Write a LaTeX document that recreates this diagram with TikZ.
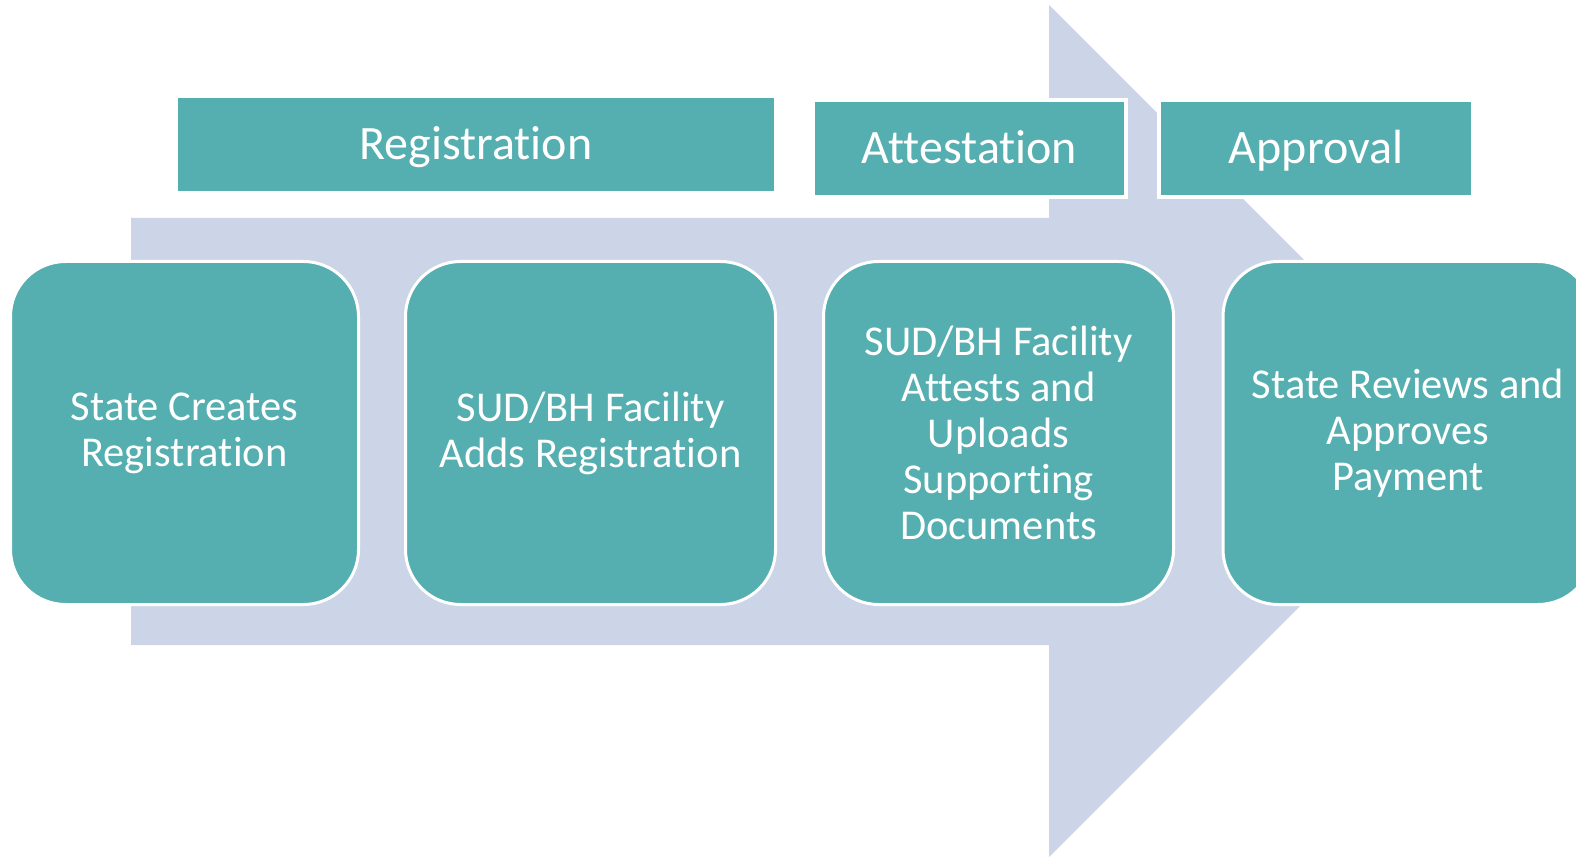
\documentclass[tikz,border=0pt]{standalone}
\usepackage{fontspec}
\setmainfont{Carlito}[Ligatures=CommonOff]
\definecolor{tealbox}{HTML}{55AEAF}
\definecolor{arrowfill}{HTML}{CBD5E7}
\begin{document}
\begin{tikzpicture}[x=1pt,y=-1pt,
  stepbox/.style={fill=tealbox, draw=white, line width=3pt, rounded corners=55pt,
    text=white, font=\fontsize{42.5}{46}\selectfont, align=center, inner sep=0pt,
    minimum height=343pt},
  phasebox/.style={fill=tealbox, draw=white, line width=4pt, text=white,
    font=\fontsize{48}{52}\selectfont, inner sep=0pt, minimum height=97pt,
    text height=31pt, text depth=0pt}]
\useasboundingbox (0,0) rectangle (1576,858);
\clip (0,0) rectangle (1576,858);
\fill[arrowfill] (131,218) -- (1049,218) -- (1049,5) -- (1475,431) -- (1049,857)
  -- (1049,645) -- (131,645) -- cycle;
\node[phasebox, minimum width=600pt] (reg) at (476,144.5) {Registration};
\node[phasebox, minimum width=313pt] (att) at (969.5,148.5) {Attestation};
\node[phasebox, minimum width=314pt] (app) at (1316,148.5) {Approval};
\node[stepbox, minimum width=348pt] (s1) at (184.5,433) {State Creates\\Registration};
\node[stepbox, minimum width=370pt] (s2) at (590.5,433) {SUD/BH Facility\\Adds Registration};
\node[stepbox, minimum width=350pt] (s3) at (998.5,433) {SUD/BH Facility\\Attests and\\Uploads\\Supporting\\Documents};
\node[stepbox, minimum width=370pt] (s4) at (1408,433) {State Reviews and\\Approves\\Payment};
\end{tikzpicture}
\end{document}
